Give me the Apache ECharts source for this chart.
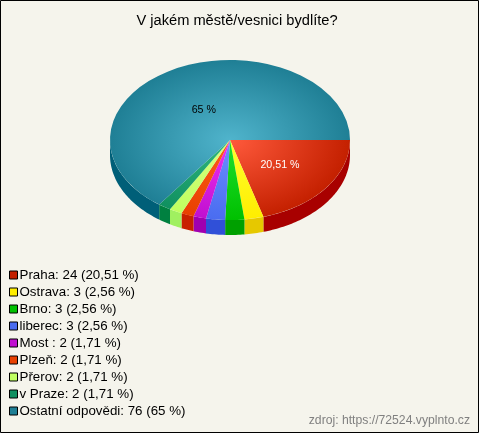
<!DOCTYPE html>
<html><head><meta charset="utf-8">
<style>html,body{margin:0;padding:0;background:#fff}#c{width:480px;height:434px;position:absolute;left:0;top:0}</style>
<script src="https://cdn.jsdelivr.net/npm/echarts@6/dist/echarts.min.js"></script>
</head><body><div id="c"></div>
<script>
const categories = ['Praha','Ostrava','Brno','liberec','Most ','Plzeň','Přerov','v Praze','Ostatní odpovědi'];
const values = [24,3,3,3,2,2,2,2,76];
const percentLabels = ['20,51','2,56','2,56','2,56','1,71','1,71','1,71','1,71','65'];
const sliceLabelShown = [true,false,false,false,false,false,false,false,true];
const sliceLabelColors = ['#ffffff','','','','','','','','#000000'];
const innerColors = ['#ff5a3c','#ffff30','#20e030','#6c90ff','#f030f0','#ff5c18','#d8ff80','#30b880','#50b4cc'];
const outerColors = ['#c42000','#ffee00','#00c000','#4a6cf0','#c010d0','#e84000','#c0ff60','#109060','#1f7f95'];
const sideColors = ['#a80000','#e6c800','#00a000','#3050d8','#a000b0','#c82000','#a0f060','#008040','#005f78'];

const W = 480, H = 434, CX = 230, CY = 140, RX = 120, RY = 80, DEPTH = 15;
const LABEL_NUDGE = {0:[2,1], 8:[1,6]};
const total = values.reduce((a,b)=>a+b,0);
const starts = []; let acc = 0;
values.forEach(v=>{starts.push(acc/total*2*Math.PI); acc+=v;});

function sidePoints(a0,a1){
  const from=Math.max(a0,0), to=Math.min(a1,Math.PI);
  if(to<=from) return null;
  const n=Math.max(2,Math.ceil((to-from)/0.02)), top=[], bottom=[];
  for(let i=0;i<=n;i++){
    const t=from+(to-from)*i/n, x=CX+RX*Math.cos(t), y=CY+RY*Math.sin(t);
    top.push([x,y]); bottom.unshift([x,y+DEPTH]);
  }
  return top.concat(bottom);
}
function renderSlice(idx){
  return function(){
    const a0=starts[idx], a1=a0+values[idx]/total*2*Math.PI, children=[];
    const pts=sidePoints(a0,a1);
    if(pts) children.push({type:'polygon',shape:{points:pts},style:{fill:sideColors[idx]},silent:true});
    children.push({type:'sector',x:CX,y:CY,scaleY:RY/RX,
      shape:{cx:0,cy:0,r0:0,r:RX,startAngle:a0,endAngle:a1,clockwise:true},
      style:{fill:new echarts.graphic.RadialGradient(0,0,RX,[{offset:0,color:innerColors[idx]},{offset:1,color:outerColors[idx]}],true)},silent:true});
    if(sliceLabelShown[idx]){
      const m=(a0+a1)/2, nudge=LABEL_NUDGE[idx]||[0,0];
      children.push({type:'text',x:CX+RX*0.5*Math.cos(m)+nudge[0],y:CY+RY*0.5*Math.sin(m)+nudge[1],
        style:{text:percentLabels[idx]+' %',fill:sliceLabelColors[idx],font:'10.67px "Liberation Sans"',align:'center',verticalAlign:'middle'},silent:true});
    }
    return {type:'group',children};
  };
}
const chart=echarts.init(document.getElementById('c'),null,{renderer:'canvas',width:W,height:H});
chart.setOption({
  animation:false,
  backgroundColor:'#ffffff',
  title:{text:'V jakém městě/vesnici bydlíte?',left:237,top:13,textAlign:'center',padding:0,
    textStyle:{fontFamily:'Liberation Sans',fontSize:14.67,fontWeight:'normal',color:'#000'}},
  tooltip:{show:false},
  legend:{orient:'vertical',left:9,top:268.5,itemWidth:8,itemHeight:8,itemGap:4,padding:0,selectedMode:false,icon:'rect',
    itemStyle:{borderColor:'#000',borderWidth:1},
    textStyle:{fontFamily:'Liberation Sans',fontSize:13.33,lineHeight:12,color:'#000',padding:[0,0,0,-3]},
    data:categories,
    formatter:n=>{const i=categories.indexOf(n);return n+': '+values[i]+' ('+percentLabels[i]+' %)';}},
  graphic:[
    {type:'rect',x:0,y:0,shape:{x:0.5,y:0.5,width:478,height:432},style:{fill:'#f5f4ec',stroke:'#000',lineWidth:1},silent:true,z:0},
    {type:'text',right:10,top:415,style:{text:'zdroj: https://72524.vyplnto.cz',fill:'#808080',font:'12.2px "Liberation Sans"'},silent:true,z:1}
  ],
  series:categories.map((name,i)=>({type:'custom',name,coordinateSystem:'none',silent:true,
    itemStyle:{color:outerColors[i]},renderItem:renderSlice(i),data:[values[i]],z:2}))
});
</script></body></html>
